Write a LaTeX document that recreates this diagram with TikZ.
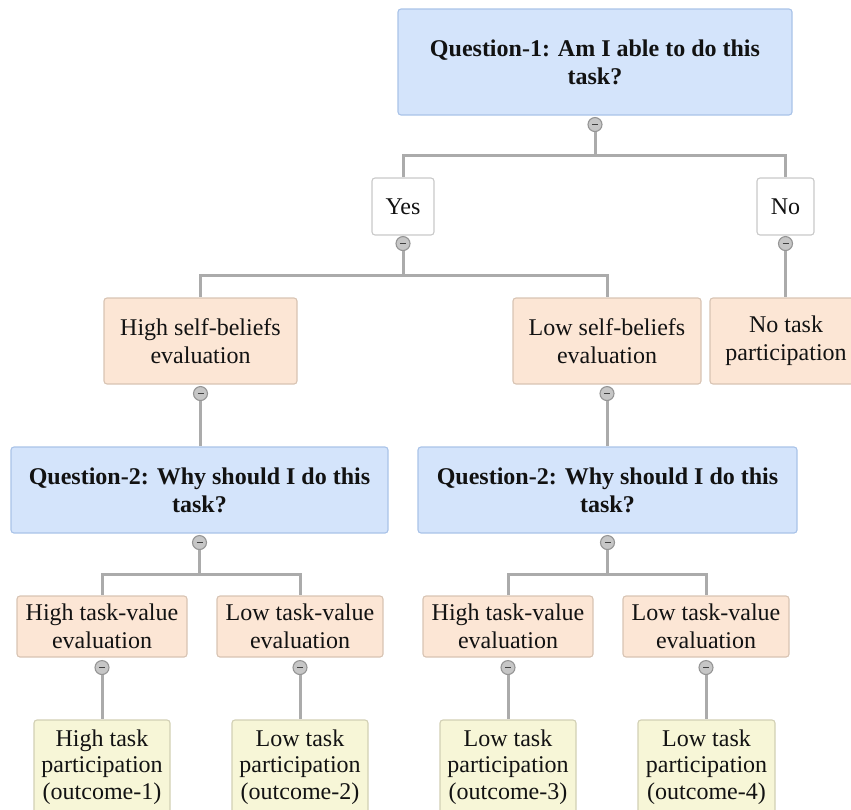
\documentclass[tikz,border=0pt]{standalone}
\usepackage{fontspec}
\setmainfont{LiberationSerif}[Extension=.ttf, UprightFont=*-Regular, BoldFont=*-Bold,
  ItalicFont=*-Italic, BoldItalicFont=*-BoldItalic]
\usetikzlibrary{calc}

\definecolor{qfill}{HTML}{D4E4FB}
\definecolor{qdraw}{HTML}{A9C3E8}
\definecolor{ofill}{HTML}{FCE6D5}
\definecolor{odraw}{HTML}{D8C4B3}
\definecolor{yfill}{HTML}{F7F6D7}
\definecolor{ydraw}{HTML}{D2D0B4}
\definecolor{wdraw}{HTML}{C9C9C9}
\definecolor{linkgray}{HTML}{ABABAB}
\definecolor{knobfill}{HTML}{C6C6C6}
\definecolor{knobdraw}{HTML}{959595}

\tikzset{
  box/.style={rectangle, rounded corners=3pt, line width=1.1pt, align=center,
    inner sep=0pt, font=\fontsize{24}{28}\selectfont, text=black!93},
  question/.style={box, fill=qfill, draw=qdraw, font=\fontsize{24}{28}\selectfont\bfseries},
  answer/.style={box, fill=white, draw=wdraw},
  evalbox/.style={box, fill=ofill, draw=odraw},
  outcome/.style={box, fill=yfill, draw=ydraw, font=\fontsize{24}{26.5}\selectfont},
  knob/.style={circle, minimum size=14pt, inner sep=0pt, fill=knobfill, draw=knobdraw,
    line width=1.1pt,
    path picture={\draw[line width=1.6pt, black!75]
      ([xshift=-3pt]path picture bounding box.center) --
      ([xshift=3pt]path picture bounding box.center);}},
  conn/.style={draw=linkgray, line width=3pt}
}

\begin{document}
\begin{tikzpicture}[x=1pt, y=-1pt]
\useasboundingbox (0,0) rectangle (851,809);

% first question and its answers
\node[question, minimum width=394pt, minimum height=106pt] (q1) at (595,62)
  {Question-1: Am I able to do this\\task?};
\node[answer, minimum width=62pt, minimum height=57pt] (yes) at (403,206.5) {Yes};
\node[answer, minimum width=57pt, minimum height=57pt] (no) at (785.5,206.5) {No};

% self-belief evaluations
\node[evalbox, minimum width=193pt, minimum height=86pt] (hsb) at (200.5,341)
  {High self-beliefs\\evaluation};
\node[evalbox, minimum width=188pt, minimum height=86pt] (lsb) at (607,341)
  {Low self-beliefs\\evaluation};
\node[evalbox, minimum width=152pt, minimum height=86pt] (nop) at (786,341)
  {No task\\participation};

% second question, asked on both branches
\node[question, minimum width=377pt, minimum height=86pt] (q2l) at (199.5,490)
  {Question-2: Why should I do this\\task?};
\node[question, minimum width=379pt, minimum height=86pt] (q2r) at (607.5,490)
  {Question-2: Why should I do this\\task?};

% task-value evaluations
\node[evalbox, minimum width=170pt, minimum height=61pt] (htl) at (102,626.5)
  {High task-value\\evaluation};
\node[evalbox, minimum width=166pt, minimum height=61pt] (ltl) at (300,626.5)
  {Low task-value\\evaluation};
\node[evalbox, minimum width=170pt, minimum height=61pt] (htr) at (508,626.5)
  {High task-value\\evaluation};
\node[evalbox, minimum width=166pt, minimum height=61pt] (ltr) at (706,626.5)
  {Low task-value\\evaluation};

% outcomes
\node[outcome, minimum width=136pt, minimum height=94pt] (o1) at (102,767)
  {High task\\participation\\(outcome-1)};
\node[outcome, minimum width=136pt, minimum height=94pt] (o2) at (300,767)
  {Low task\\participation\\(outcome-2)};
\node[outcome, minimum width=136pt, minimum height=94pt] (o3) at (508,767)
  {Low task\\participation\\(outcome-3)};
\node[outcome, minimum width=137pt, minimum height=94pt] (o4) at (706.5,767)
  {Low task\\participation\\(outcome-4)};

% collapse knobs below the expanded nodes
\node[knob] (kq1) at ($(q1.south)+(0,9)$) {};
\node[knob] (kyes) at ($(yes.south)+(0,8)$) {};
\node[knob] (kno) at ($(no.south)+(0,8)$) {};
\node[knob] (khsb) at ($(hsb.south)+(0,9)$) {};
\node[knob] (klsb) at ($(lsb.south)+(0,9)$) {};
\node[knob] (kq2l) at ($(q2l.south)+(0,9)$) {};
\node[knob] (kq2r) at ($(q2r.south)+(0,9)$) {};
\node[knob] (khtl) at ($(htl.south)+(0,10)$) {};
\node[knob] (kltl) at ($(ltl.south)+(0,10)$) {};
\node[knob] (khtr) at ($(htr.south)+(0,10)$) {};
\node[knob] (kltr) at ($(ltr.south)+(0,10)$) {};

% levels of the horizontal branch bars
\coordinate (bar1) at (0,155);
\coordinate (bar2) at (0,275);
\coordinate (bar3) at (0,574);

% branch connectors
\draw[conn] (kq1.south) -- (kq1.south |- bar1) -| (yes.north);
\draw[conn] (kq1.south |- bar1) -| (no.north);
\draw[conn] (kyes.south) -- (kyes.south |- bar2) -| (hsb.north);
\draw[conn] (kyes.south |- bar2) -| (lsb.north);
\draw[conn] (kno.south) -- (kno.south |- nop.north);
\draw[conn] (khsb.south) -- (khsb.south |- q2l.north);
\draw[conn] (klsb.south) -- (klsb.south |- q2r.north);
\draw[conn] (kq2l.south) -- (kq2l.south |- bar3) -| (htl.north);
\draw[conn] (kq2l.south |- bar3) -| (ltl.north);
\draw[conn] (kq2r.south) -- (kq2r.south |- bar3) -| (htr.north);
\draw[conn] (kq2r.south |- bar3) -| (ltr.north);
\draw[conn] (khtl.south) -- (khtl.south |- o1.north);
\draw[conn] (kltl.south) -- (kltl.south |- o2.north);
\draw[conn] (khtr.south) -- (khtr.south |- o3.north);
\draw[conn] (kltr.south) -- (kltr.south |- o4.north);
\end{tikzpicture}
\end{document}
